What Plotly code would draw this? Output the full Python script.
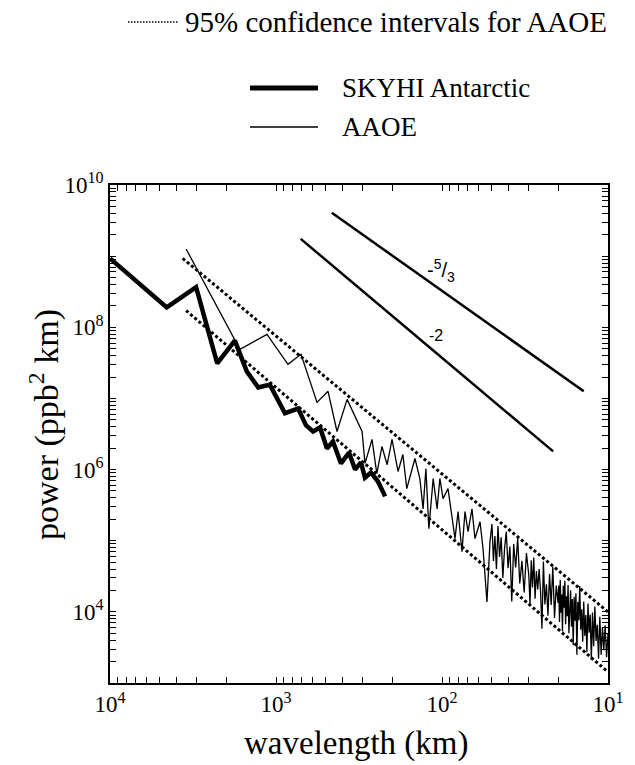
import plotly.graph_objects as go

# ---------------- data ----------------
skyhi_wavelength = [10000, 4550, 3030, 2260, 1770, 1500, 1280, 1090, 883, 736,
                    659, 598, 543, 493, 454, 406, 363, 334, 308, 291, 268, 243, 220]
skyhi_power = [9.3e8, 1.9e8, 3.66e8, 3.1e7, 6.5e7, 2.4e7, 1.43e7, 1.56e7, 6.2e6, 7.2e6,
               4.17e6, 3.43e6, 3.91e6, 1.98e6, 2.48e6, 1.22e6, 1.73e6, 1.0e6, 1.26e6,
               7.7e5, 9.1e5, 6.8e5, 4.2e5]

aaoe_wavelength = [3480, 1650, 1133, 847, 707, 566, 486, 429, 373, 303,
                   291, 264, 247, 230, 214, 200, 184, 172, 163, 145.5,
                   136, 130, 125, 120, 113, 107, 103, 98.6, 92, 87,
                   83.5, 80, 75.8, 72.7, 69.7, 66, 63.3, 59, 56.6, 53.6, 51.4,
                   50, 49, 48, 47, 46, 45, 44, 43, 42, 41, 40, 39, 38, 37, 36, 35,
                   34, 33, 32, 31, 30,
                   29.5, 29, 28.5, 28, 27.5, 27, 26.5, 26, 25.5, 25, 24.5, 24,
                   23.5, 23, 22.5, 22, 21.5, 21, 20.5, 20,
                   19.8, 19.6, 19.4, 19.2, 19.0, 18.8, 18.6, 18.4, 18.2, 18.0,
                   17.8, 17.6, 17.4, 17.2, 17.0, 16.8, 16.6, 16.4, 16.2, 16.0,
                   15.8, 15.6, 15.4, 15.2, 15.0, 14.8, 14.6, 14.4, 14.2, 14.0,
                   13.8, 13.6, 13.4, 13.2, 13.0, 12.8, 12.6, 12.4, 12.2, 12.0,
                   11.8, 11.6, 11.4, 11.2, 11.0, 10.8, 10.6, 10.4, 10.2, 10.0]
aaoe_power = [1.26e9, 4.9e7, 7.96e7, 3.01e7, 4.17e7, 8.8e6, 1.26e7, 3.43e6, 9.7e6, 3.43e6,
              1.22e6, 2.65e6, 8.8e5, 2.11e6, 1.17e6, 2.65e6, 9.4e5, 1.63e6, 5.4e5, 1.43e6,
              7.5e5, 2.8e5, 1.03e6, 1.48e5, 7.5e5, 2.8e5, 7.5e5, 3.9e5, 5.4e5, 2.3e5,
              1.07e5, 2.56e5, 7.0e4, 2.56e5, 1.34e5, 2.8e5, 1.07e5, 1.85e5, 7.7e4, 1.38e4, 9.7e4,
              1.71e5, 5.2e4, 1.16e5, 4.0e4, 1.61e5, 5.9e4, 1.12e5, 3.0e4, 7.7e4, 1.34e5,
              4.1e4, 8.3e4, 1.4e4, 9.0e4, 4.2e4, 1.07e5,
              2.5e4, 5.2e4, 1.87e4, 6.7e4, 3.3e4,
              1.28e4, 5.3e4, 2.2e4, 5.8e4, 1.53e4, 3.75e4, 2.06e4, 4.0e4, 2.0e4, 5.8e3,
              5.1e4, 1.27e4, 2.44e4, 8.8e3, 3.4e4, 1.25e4, 4.3e4, 8.2e3, 2.34e4, 1.33e4,
              2.35e4, 7.2e3, 2.82e4, 9.7e3, 1.76e4, 5.3e3, 2.33e4, 1.14e4, 2.73e4, 6.7e3,
              1.66e4, 8.7e3, 2.38e4, 5.0e3, 1.30e4, 2.01e4, 6.2e3, 1.51e4, 3.4e3, 1.63e4,
              7.5e3, 1.83e4, 2.5e3, 1.39e4, 7.6e3, 2.3e4, 5.6e3, 1.09e4, 3.8e3, 1.40e4,
              4.6e3, 9.0e3, 2.7e3, 1.31e4, 5.1e3, 9.2e3, 2.1e3, 9.8e3, 3.3e3, 1.19e4,
              3.9e3, 6.6e3, 2.2e3, 8.5e3, 2.5e3, 6.1e3, 2.9e3, 6.5e3, 2.3e3, 4.9e3]

ci_upper_wavelength = [3650, 10]
ci_upper_power = [9.3e8, 1.0e4]
ci_lower_wavelength = [3480, 10]
ci_lower_power = [1.72e8, 1.43e3]

slope53_wavelength = [461, 14.0]
slope53_power = [4.07e9, 1.26e7]
slope2_wavelength = [710, 21.4]
slope2_power = [1.75e9, 1.8e6]

x_major = [1e4, 1e3, 1e2, 1e1]
x_major_text = ["10<sup>4</sup>", "10<sup>3</sup>", "10<sup>2</sup>", "10<sup>1</sup>"]
y_major = [1e3, 1e4, 1e5, 1e6, 1e7, 1e8, 1e9, 1e10]
y_major_text = ["", "10<sup>4</sup>", "", "10<sup>6</sup>", "", "10<sup>8</sup>", "", "10<sup>10</sup>"]
minor_multipliers = [2, 3, 4, 5, 6, 7, 8, 9]

# all tick positions (major + minor) with labels only on the majors
x_tickvals, x_ticktext = [], []
for v, t in zip(x_major, x_major_text):
    x_tickvals.append(v)
    x_ticktext.append(t)
for e in (1, 2, 3):
    for m in minor_multipliers:
        x_tickvals.append(m * 10 ** e)
        x_ticktext.append("")
y_tickvals, y_ticktext = [], []
for v, t in zip(y_major, y_major_text):
    y_tickvals.append(v)
    y_ticktext.append(t)
for e in range(3, 10):
    for m in minor_multipliers:
        y_tickvals.append(m * 10 ** e)
        y_ticktext.append("")

SERIF = "Liberation Serif"
SANS = "Liberation Sans"

# ---------------- figure ----------------
fig = go.Figure()

dotted = dict(color="black", width=3, dash="3px,2.5px")
fig.add_trace(go.Scatter(x=ci_upper_wavelength, y=ci_upper_power, mode="lines",
                         line=dotted, showlegend=False, hoverinfo="skip"))
fig.add_trace(go.Scatter(x=ci_lower_wavelength, y=ci_lower_power, mode="lines",
                         line=dotted, showlegend=False, hoverinfo="skip"))
fig.add_trace(go.Scatter(x=aaoe_wavelength, y=aaoe_power, mode="lines",
                         line=dict(color="black", width=1.3),
                         showlegend=False, name="AAOE"))
fig.add_trace(go.Scatter(x=skyhi_wavelength, y=skyhi_power, mode="lines",
                         line=dict(color="black", width=4.5),
                         showlegend=False, name="SKYHI Antarctic"))
fig.add_trace(go.Scatter(x=slope53_wavelength, y=slope53_power, mode="lines",
                         line=dict(color="black", width=2.5),
                         showlegend=False, hoverinfo="skip"))
fig.add_trace(go.Scatter(x=slope2_wavelength, y=slope2_power, mode="lines",
                         line=dict(color="black", width=2.5),
                         showlegend=False, hoverinfo="skip"))

axis_common = dict(
    type="log", showgrid=False, zeroline=False, showline=True,
    linecolor="black", linewidth=1.5, ticks="inside", ticklen=6,
    tickwidth=1.2, tickcolor="black", mirror="allticks",
    tickfont=dict(family=SERIF, size=23, color="black"),
    tickmode="array",
)

fig.update_xaxes(**axis_common, range=[4, 1], tickvals=x_tickvals, ticktext=x_ticktext)
fig.update_yaxes(**axis_common, range=[3, 10], tickvals=y_tickvals, ticktext=y_ticktext)

W, H = 635, 765
L, R, T, B = 110, 27, 185, 82
pw, ph = W - L - R, H - T - B


def px(xp):
    return (xp - L) / pw


def py(yp):
    return (H - B - yp) / ph


shapes = [
    dict(type="line", xref="paper", yref="paper", x0=px(128), x1=px(178), y0=py(22), y1=py(22),
         line=dict(color="black", width=1.5, dash="1.5px,1.5px")),
    dict(type="line", xref="paper", yref="paper", x0=px(250), x1=px(318), y0=py(88), y1=py(88),
         line=dict(color="black", width=5)),
    dict(type="line", xref="paper", yref="paper", x0=px(250), x1=px(318), y0=py(127), y1=py(127),
         line=dict(color="black", width=1.5)),
]

annotations = [
    dict(text="95% confidence intervals for AAOE", xref="paper", yref="paper",
         x=px(183), y=py(22), xanchor="left", yanchor="middle", showarrow=False,
         font=dict(family=SERIF, size=29, color="black")),
    dict(text="SKYHI Antarctic", xref="paper", yref="paper",
         x=px(340), y=py(88), xanchor="left", yanchor="middle", showarrow=False,
         font=dict(family=SERIF, size=27, color="black")),
    dict(text="AAOE", xref="paper", yref="paper",
         x=px(340), y=py(127), xanchor="left", yanchor="middle", showarrow=False,
         font=dict(family=SERIF, size=27, color="black")),
    dict(text="wavelength (km)", xref="paper", yref="paper",
         x=px(356), y=py(743), xanchor="center", yanchor="middle", showarrow=False,
         font=dict(family=SERIF, size=33, color="black")),
    dict(text="power (ppb<sup>2</sup> km)", xref="paper", yref="paper",
         x=px(44), y=py(425), xanchor="center", yanchor="middle", showarrow=False,
         textangle=-90, font=dict(family=SERIF, size=34, color="black")),
    dict(text="-<sup>5</sup>/<sub>3</sub>", xref="x", yref="y",
         x=2.006, y=8.803, xanchor="center", yanchor="middle", showarrow=False,
         font=dict(family=SANS, size=20, color="black")),
    dict(text="-2", xref="x", yref="y",
         x=2.036, y=7.887, xanchor="center", yanchor="middle", showarrow=False,
         font=dict(family=SANS, size=16, color="black")),
]

fig.update_layout(
    width=W, height=H,
    margin=dict(l=L, r=R, t=T, b=B, pad=0),
    paper_bgcolor="white", plot_bgcolor="white",
    showlegend=False,
    shapes=shapes, annotations=annotations,
)

fig.write_html("out.html", config={"displayModeBar": False},
               post_script="document.body.style.margin='0';document.body.style.padding='0';")
